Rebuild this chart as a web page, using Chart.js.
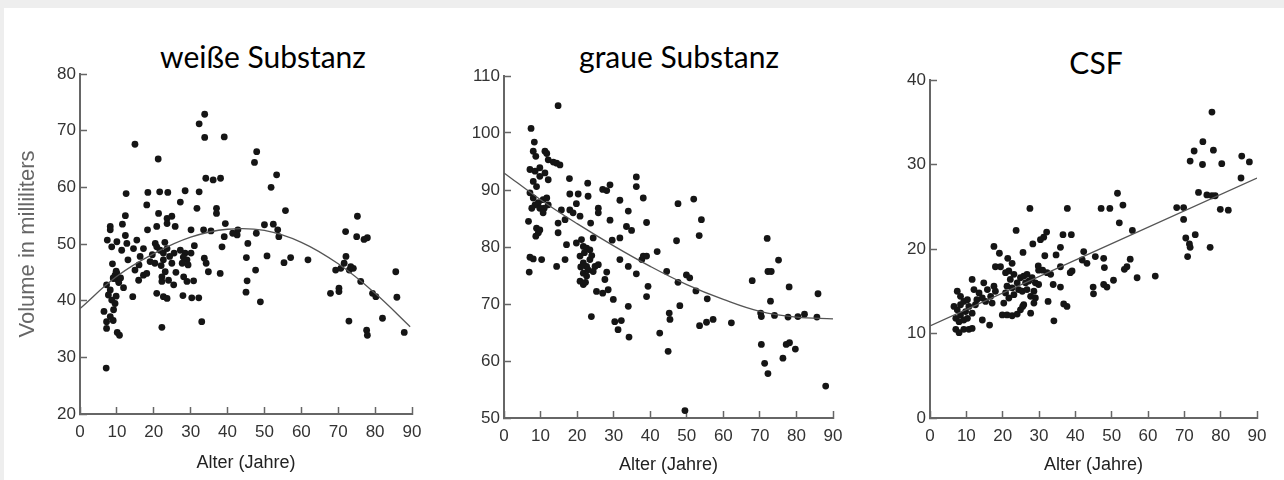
<!DOCTYPE html>
<html lang="de">
<head>
<meta charset="utf-8">
<title>Hirnvolumen nach Alter</title>
<script src="https://cdn.jsdelivr.net/npm/chart.js@4.4.1/dist/chart.umd.min.js"></script>
<style>
  html, body { margin: 0; padding: 0; }
  body { width: 1284px; height: 480px; background: #fff; position: relative; overflow: hidden; }
  .band-top { position: absolute; left: 0; top: 0; width: 1284px; height: 8px; background: #eeeeee; }
  .band-left { position: absolute; left: 0; top: 0; width: 4px; height: 480px; background: #eeeeee; }
  .panel-title { position: absolute; top: 41px; width: 300px; text-align: center;
                 font-family: Lato, sans-serif; font-size: 30px; line-height: 1; color: #000; }
  canvas { position: absolute; top: 60px; }
</style>
</head>
<body>
<div class="band-top"></div>
<div class="band-left"></div>

<div class="panel-title" style="left:113px">weiße Substanz</div>
<div class="panel-title" style="left:529px">graue Substanz</div>
<div class="panel-title" style="left:946px; top:47px">CSF</div>

<canvas id="white-matter" width="430" height="420" style="left:0px"></canvas>
<canvas id="grey-matter" width="430" height="420" style="left:430px"></canvas>
<canvas id="csf" width="430" height="420" style="left:854px"></canvas>

<script>
// [Alter, Volumen in ml]
var wmPoints = [
  [33.8,72.9],[32.3,71.2],[33.8,68.8],[39.1,68.9],[14.9,67.6],[21.2,65.0],[47.9,66.3],[47.3,64.4],
  [53.3,62.2],[51.8,60.0],[34.1,61.6],[36.1,61.3],[38.1,61.6],[12.5,58.9],[18.4,59.1],[21.6,59.2],
  [23.8,59.1],[28.5,59.4],[32.3,59.2],[18.1,56.9],[27.2,57.4],[31.7,56.3],[37.0,56.3],[37.0,55.4],
  [55.7,55.9],[21.3,55.4],[23.6,54.5],[24.9,54.9],[12.3,55.0],[8.2,53.1],[8.2,52.5],[11.5,53.5],
  [12.3,51.5],[18.3,52.5],[20.8,53.1],[23.6,53.6],[25.8,53.1],[30.1,52.5],[33.5,52.5],[39.4,53.6],
  [42.8,52.5],[42.6,51.6],[41.4,51.9],[39.1,51.3],[50.0,53.4],[52.4,53.5],[53.6,52.5],[53.9,51.3],
  [47.8,51.9],[72.0,52.2],[75.2,54.9],[75.0,51.3],[77.9,51.1],[77.0,50.8],[7.4,50.7],[10.0,50.4],
  [8.6,49.5],[12.7,50.1],[15.4,50.7],[11.3,48.9],[14.5,49.2],[17.2,49.2],[16.3,47.8],[20.4,50.1],
  [20.8,49.5],[21.7,48.9],[22.6,48.4],[23.6,49.2],[19.6,48.1],[20.3,46.6],[22.6,47.2],[27.2,48.9],
  [28.5,48.4],[29.0,47.2],[27.7,46.6],[30.1,48.4],[24.9,46.6],[38.5,49.5],[45.5,50.1],[45.1,47.6],
  [47.6,45.4],[50.7,47.9],[55.3,46.7],[57.1,47.6],[61.8,47.2],[33.7,47.5],[34.2,46.6],[34.8,45.1],
  [38.0,44.8],[45.3,43.5],[45.0,41.5],[48.9,39.8],[10.0,44.8],[9.1,43.9],[10.1,43.8],[9.5,44.5],
  [7.2,42.8],[8.2,41.9],[7.7,41.0],[8.6,40.1],[9.5,39.5],[6.5,38.1],[9.1,38.4],[8.2,37.2],
  [7.2,36.3],[7.2,35.1],[10.1,34.4],[10.7,33.9],[7.1,28.1],[14.3,40.7],[15.9,43.6],[14.9,45.4],
  [17.2,44.5],[18.1,44.8],[20.8,41.3],[22.6,40.7],[23.6,40.4],[22.2,43.4],[22.2,44.2],[23.1,45.1],
  [25.4,42.8],[24.0,43.6],[22.2,35.3],[27.9,40.9],[30.3,40.5],[32.2,40.5],[30.8,43.5],[28.1,44.2],
  [29.0,43.4],[33.0,36.3],[67.9,41.3],[70.2,42.2],[70.2,41.6],[69.3,45.4],[70.7,45.7],[71.6,46.6],
  [72.1,47.8],[73.4,46.0],[74.1,45.7],[73.0,45.4],[76.1,43.4],[79.3,41.3],[80.2,40.7],[82.0,36.9],
  [85.6,45.1],[85.9,40.6],[87.9,34.4],[77.7,34.8],[77.9,33.9],[72.9,36.4],
  [9.0,44.0],[10.5,43.2],[9.8,45.2],[11.0,44.0],[8.8,46.5],[11.8,42.3],[23.0,50.3],[24.3,47.8],
  [22.0,46.2],[25.5,48.4],[28.0,47.7],[29.3,46.3],[26.0,45.0],[9.8,40.8],[9.0,36.5],[13.0,47.2],
  [16.0,46.3],[19.0,46.9],[35.5,52.3],[31.0,49.7]
];
var wmFit = [[0,38.6],[10,44.3],[20,48.3],[30,51.2],[40,52.6],[50,52.4],[60,50.3],[70,46.5],[80,41.3],[89.5,35.4]];

var gmPoints = [
  [14.8,104.8],[7.4,100.8],[8.3,98.4],[8.0,96.8],[8.7,95.9],[11.2,96.8],[11.7,96.4],[12.1,95.3],
  [14.4,94.7],[13.5,94.9],[15.3,94.4],[7.1,93.6],[8.5,93.3],[9.8,93.9],[9.8,92.4],[11.2,93.0],
  [12.1,91.8],[8.0,91.5],[8.9,90.6],[17.9,92.0],[22.9,91.2],[27.0,90.1],[29.0,90.9],[28.1,89.9],
  [36.2,92.3],[36.2,90.6],[31.7,88.2],[38.1,88.6],[23.0,88.9],[18.0,89.3],[20.3,89.3],[7.1,89.5],
  [8.0,88.6],[8.5,87.4],[9.4,87.8],[10.7,88.3],[11.7,88.6],[12.1,87.4],[11.0,86.8],[9.8,86.8],
  [7.6,86.8],[10.7,86.0],[15.7,86.5],[18.0,86.5],[18.9,86.0],[19.8,87.6],[20.8,85.4],[16.7,84.8],
  [14.8,84.2],[14.8,82.5],[25.8,86.8],[25.8,86.0],[23.7,84.2],[29.0,84.7],[34.0,86.3],[39.0,84.3],
  [33.5,83.6],[34.9,82.9],[6.7,84.5],[8.9,83.3],[9.4,82.5],[8.7,81.9],[9.8,83.0],[47.6,87.6],
  [51.9,88.4],[54.0,84.8],[53.4,82.0],[47.2,81.1],[72.0,81.5],[17.1,80.4],[19.8,80.7],[21.2,81.3],
  [21.7,80.1],[22.6,79.8],[23.5,79.5],[24.4,81.6],[29.6,81.2],[31.7,81.6],[41.9,79.2],[7.1,78.2],
  [8.0,77.9],[10.3,77.8],[6.9,75.6],[14.4,76.6],[16.7,77.8],[20.8,78.4],[21.7,77.2],[22.6,76.6],
  [23.5,77.8],[24.9,76.6],[25.8,76.9],[21.7,75.4],[20.8,74.0],[21.7,73.4],[22.6,74.9],[24.4,75.7],
  [28.1,75.6],[27.6,74.3],[25.3,72.2],[27.0,71.9],[28.5,72.5],[29.9,70.8],[31.7,77.8],[34.0,76.6],
  [37.7,77.8],[38.1,78.4],[39.0,78.4],[36.2,75.3],[44.5,75.7],[39.4,73.1],[39.0,71.3],[49.9,75.1],
  [50.8,74.6],[47.6,73.8],[52.5,72.3],[55.6,70.9],[48.1,69.7],[23.9,67.8],[30.3,66.9],[32.1,67.1],
  [31.2,65.5],[34.0,69.6],[34.2,64.2],[45.2,68.4],[45.4,67.3],[42.6,64.9],[44.9,61.7],[53.5,66.2],
  [55.4,66.8],[57.2,67.3],[62.2,66.7],[67.9,74.1],[72.2,75.7],[73.1,75.7],[75.1,77.7],[78.0,73.0],
  [85.9,71.8],[72.9,70.5],[70.2,68.4],[70.4,67.8],[74.0,68.0],[77.7,67.7],[80.4,67.8],[82.2,68.2],
  [85.6,67.7],[70.4,62.9],[71.3,59.6],[72.2,57.8],[76.3,60.5],[77.2,62.9],[78.1,63.2],[79.7,62.1],
  [88.0,55.6],[49.5,51.3],
  [22.0,79.0],[23.0,76.0],[21.0,76.5],[22.3,73.8],[24.0,78.5]
];
var gmFit = [[0,93.0],[10,88.3],[20,84.1],[30,80.2],[40,76.6],[50,73.4],[60,70.8],[70,68.7],[80,67.7],[90,67.4]];

var csfPoints = [
  [77.6,36.2],[75.1,32.7],[72.7,31.6],[78.0,31.7],[71.6,30.4],[75.0,30.0],[80.3,30.1],[85.8,31.0],
  [87.9,30.3],[85.6,28.4],[73.9,26.7],[76.2,26.4],[77.6,26.3],[78.5,26.3],[67.9,24.9],[69.8,24.9],
  [79.9,24.7],[82.1,24.6],[69.8,23.5],[70.4,21.3],[73.0,21.7],[71.4,20.6],[71.6,20.2],[77.1,20.2],
  [70.9,19.1],[27.5,24.8],[37.8,24.8],[47.1,24.8],[49.5,24.8],[51.6,26.6],[53.1,25.2],[52.1,23.1],
  [55.7,22.2],[23.7,22.2],[36.6,21.7],[38.9,21.7],[32.1,22.0],[31.3,21.4],[30.4,21.1],[28.3,20.6],
  [17.6,20.3],[19.1,19.5],[25.6,19.6],[35.9,20.2],[34.7,19.3],[31.6,19.2],[21.4,18.9],[22.6,18.3],
  [18.0,17.9],[29.8,18.0],[35.9,17.9],[29.9,17.5],[42.3,19.7],[41.9,18.7],[43.2,18.3],[45.5,19.1],
  [47.8,18.9],[48.0,17.8],[39.1,17.4],[38.6,17.2],[55.1,18.8],[54.2,17.9],[53.5,17.6],[57.0,16.6],
  [62.0,16.8],[50.5,16.3],[47.8,15.8],[48.7,15.5],[44.9,15.5],[45.0,14.7],[33.2,17.0],[33.9,15.8],
  [35.9,15.5],[32.5,13.8],[36.8,13.5],[37.7,13.2],[34.1,11.5],[32.2,17.2],[31.0,17.5],[19.4,17.9],
  [20.8,17.2],[21.7,17.4],[22.1,16.4],[23.1,17.0],[24.0,16.0],[24.9,16.6],[25.8,16.8],[26.7,17.0],
  [26.3,16.0],[27.2,16.2],[28.1,16.6],[29.0,16.0],[29.9,15.8],[21.2,15.6],[22.6,15.4],[20.8,14.8],
  [21.7,14.2],[23.1,14.6],[24.4,15.2],[25.4,15.0],[26.7,15.2],[28.6,15.0],[27.7,14.4],[29.0,14.2],
  [25.8,13.4],[20.3,13.6],[19.9,12.2],[21.2,12.2],[22.6,12.1],[24.0,12.3],[24.9,12.8],[25.5,13.2],
  [27.7,12.4],[28.6,13.6],[7.5,15.0],[8.4,14.4],[6.6,13.2],[7.5,12.8],[8.4,13.4],[9.3,13.8],
  [10.3,14.0],[10.7,13.2],[9.8,12.6],[8.4,12.2],[7.1,11.8],[8.0,11.4],[9.3,11.6],[10.3,11.8],
  [11.6,12.4],[7.1,10.5],[8.0,10.1],[9.3,10.5],[10.7,10.5],[11.6,10.6],[11.6,16.4],[12.1,15.2],
  [13.5,14.8],[14.8,16.0],[15.8,15.2],[14.4,14.2],[15.3,13.8],[16.7,14.4],[17.1,13.6],[18.0,15.0],
  [17.6,15.6],[12.9,14.0],[14.4,11.6],[16.4,11.0],[12.5,13.4]
];
var csfFit = [[0,10.9],[90,28.4]];

var ageTicks = [0, 10, 20, 30, 40, 50, 60, 70, 80, 90];

function toXY(list) {
  return list.map(function(p) { return {x: p[0], y: p[1]}; });
}

// area = chart area inside the 430x420 canvas
function makePanel(id, points, fit, yMin, yMax, area, yTitle, xTitlePad) {
  var ctx = document.getElementById(id).getContext('2d');
  return new Chart(ctx, {
    type: 'scatter',
    data: {
      datasets: [{
        data: toXY(points),
        pointRadius: 3.4,
        pointBackgroundColor: '#151515',
        pointBorderWidth: 0,
        order: 2
      }, {
        type: 'line',
        data: toXY(fit),
        showLine: true,
        fill: false,
        pointRadius: 0,
        borderColor: '#555',
        borderWidth: 1.3,
        tension: 0.4,
        order: 1
      }]
    },
    options: {
      responsive: false,
      animation: false,
      layout: { padding: { left: 0, right: 430 - area.right, top: area.top, bottom: 0 } },
      plugins: { legend: { display: false }, tooltip: { enabled: false } },
      scales: {
        x: {
          type: 'linear', min: 0, max: 90,
          afterBuildTicks: function(s) { s.ticks = ageTicks.map(function(v) { return {value: v}; }); },
          ticks: { color: '#333', padding: 15, maxRotation: 0,
                   font: { family: 'Liberation Sans', size: 17 } },
          grid: { drawOnChartArea: false, tickLength: -7, tickColor: '#666', tickWidth: 1.5 },
          border: { color: '#666', width: 2 },
          title: { display: true, text: 'Alter (Jahre)', color: '#222',
                   font: { family: 'Liberation Sans', size: 18 }, padding: { top: 0, bottom: xTitlePad } },
          afterFit: function(s) {
            s.height = 420 - area.bottom;
            s.paddingLeft = 0; s.paddingRight = 0;
          }
        },
        y: {
          min: yMin, max: yMax,
          ticks: { stepSize: 10, color: '#333', padding: 11,
                   font: { family: 'Liberation Sans', size: 17 } },
          grid: { drawOnChartArea: false, tickLength: -7, tickColor: '#666', tickWidth: 1.5 },
          border: { color: '#666', width: 2 },
          title: { display: !!yTitle, text: yTitle || '', color: '#666',
                   font: { family: 'Liberation Sans', size: 22 }, padding: { top: 15, bottom: 0 } },
          afterFit: function(s) {
            s.width = area.left;
            s.paddingTop = 0; s.paddingBottom = 0;
          }
        }
      }
    }
  });
}

window.onload = function() {
  makePanel('white-matter', wmPoints, wmFit, 20, 80,
            {left: 80, right: 412, top: 14, bottom: 354}, 'Volume in milliliters', 6);
  makePanel('grey-matter', gmPoints, gmFit, 50, 110,
            {left: 74, right: 403, top: 16, bottom: 358}, null, 4);
  makePanel('csf', csfPoints, csfFit, 0, 40,
            {left: 76, right: 403, top: 20, bottom: 358}, null, 4);
};
</script>
</body>
</html>
